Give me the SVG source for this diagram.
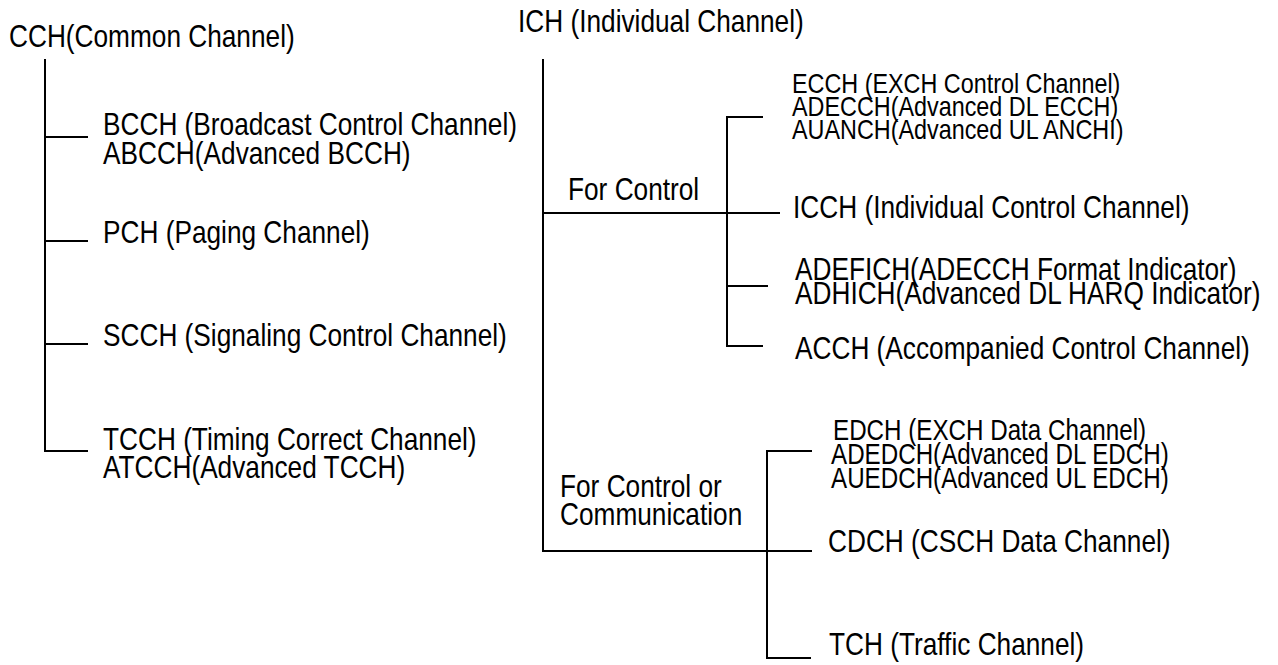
<svg xmlns="http://www.w3.org/2000/svg" width="1278" height="665" viewBox="0 0 1278 665">
<style>
text{font-family:"Liberation Sans",Arial,sans-serif;font-size:32px;fill:#000}
text.s{font-size:28.5px}
text.t{font-size:29.5px}
.c line{stroke:#000;stroke-width:2;fill:none}
</style>
<rect width="1278" height="665" fill="#fff"/>
<g id="cch"><text transform="translate(9,47) scale(0.82,1)">CCH(Common Channel)</text></g>
<g id="bcch"><text transform="translate(103,135) scale(0.82,1)">BCCH (Broadcast Control Channel)</text><text transform="translate(103,164) scale(0.82,1)">ABCCH(Advanced BCCH)</text></g>
<g id="pch"><text transform="translate(103,243) scale(0.82,1)">PCH (Paging Channel)</text></g>
<g id="scch"><text transform="translate(103,346) scale(0.82,1)">SCCH (Signaling Control Channel)</text></g>
<g id="tcch"><text transform="translate(103,450) scale(0.82,1)">TCCH (Timing Correct Channel)</text><text transform="translate(103,478) scale(0.82,1)">ATCCH(Advanced TCCH)</text></g>
<g id="ich"><text transform="translate(518,32) scale(0.82,1)">ICH (Individual Channel)</text></g>
<g id="forcontrol"><text transform="translate(568,200) scale(0.82,1)">For Control</text></g>
<g id="ecch"><text class="s" transform="translate(792,93) scale(0.82,1)">ECCH (EXCH Control Channel)</text><text class="s" transform="translate(792,116) scale(0.82,1)">ADECCH(Advanced DL ECCH)</text><text class="s" transform="translate(792,139) scale(0.82,1)">AUANCH(Advanced UL ANCHI)</text></g>
<g id="icch"><text transform="translate(793,218) scale(0.82,1)">ICCH (Individual Control Channel)</text></g>
<g id="adefich"><text transform="translate(795,280) scale(0.82,1)">ADEFICH(ADECCH Format Indicator)</text><text transform="translate(795,304) scale(0.82,1)">ADHICH(Advanced DL HARQ Indicator)</text></g>
<g id="acch"><text transform="translate(795,359) scale(0.82,1)">ACCH (Accompanied Control Channel)</text></g>
<g id="forcomm"><text transform="translate(560,497) scale(0.82,1)">For Control or</text><text transform="translate(560,525) scale(0.82,1)">Communication</text></g>
<g id="edch"><text class="t" transform="translate(833,440) scale(0.82,1)">EDCH (EXCH Data Channel)</text><text class="t" transform="translate(831,464) scale(0.82,1)">ADEDCH(Advanced DL EDCH)</text><text class="t" transform="translate(831,488) scale(0.82,1)">AUEDCH(Advanced UL EDCH)</text></g>
<g id="cdch"><text transform="translate(828,552) scale(0.82,1)">CDCH (CSCH Data Channel)</text></g>
<g id="tch"><text transform="translate(829,655) scale(0.82,1)">TCH (Traffic Channel)</text></g>
<g id="connectors" class="c">
<line x1="45" y1="59" x2="45" y2="452"/>
<line x1="45" y1="137" x2="88" y2="137"/>
<line x1="45" y1="241" x2="88" y2="241"/>
<line x1="45" y1="344" x2="88" y2="344"/>
<line x1="44" y1="451" x2="88" y2="451"/>
<line x1="543" y1="59" x2="543" y2="552"/>
<line x1="542" y1="213" x2="780" y2="213"/>
<line x1="727" y1="116" x2="727" y2="347"/>
<line x1="726" y1="117" x2="763" y2="117"/>
<line x1="727" y1="286" x2="768" y2="286"/>
<line x1="726" y1="346" x2="763" y2="346"/>
<line x1="542" y1="551" x2="812" y2="551"/>
<line x1="767" y1="450" x2="767" y2="659"/>
<line x1="766" y1="451" x2="812" y2="451"/>
<line x1="766" y1="658" x2="811" y2="658"/>
</g>
</svg>
